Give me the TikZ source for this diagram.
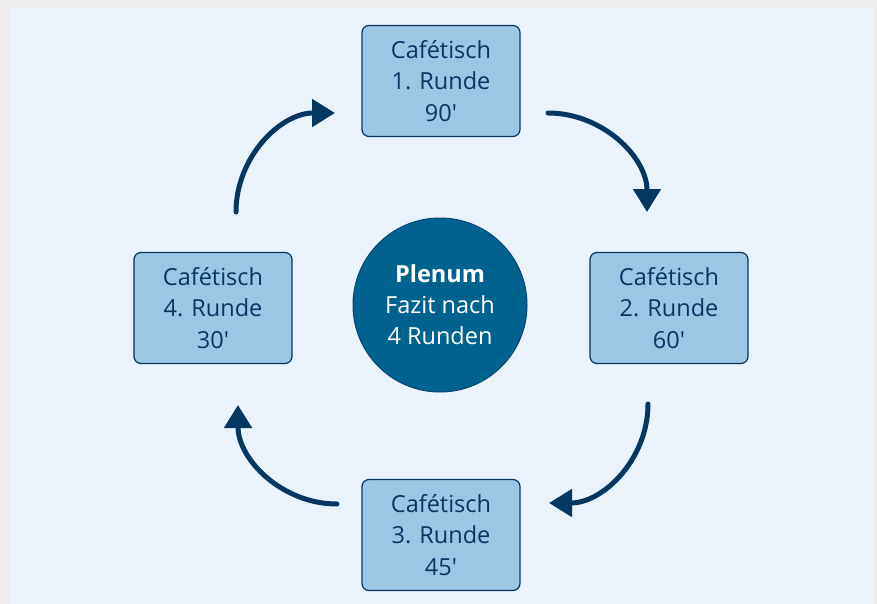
\documentclass[tikz,border=0pt]{standalone}
\usepackage{fontspec}
\setmainfont{Open Sans}
\usetikzlibrary{arrows.meta,positioning}

\definecolor{outergray}{HTML}{ECECEC}
\definecolor{pagebg}{HTML}{EAF3FB}
\definecolor{tablefill}{HTML}{9DC6E5}
\definecolor{navy}{HTML}{063763}
\definecolor{plenumfill}{HTML}{00638F}

\tikzset{
  table/.style={draw=navy, fill=tablefill, line width=1.2pt, rounded corners=7pt,
    minimum width=158pt, minimum height=111pt, align=center, text=navy,
    font=\fontsize{23.5}{31.5}\selectfont},
  plenum/.style={circle, draw=navy!70!plenumfill, fill=plenumfill, line width=1pt,
    minimum size=174pt, align=center, text=white,
    font=\fontsize{23.5}{31}\selectfont},
  round/.style={draw=navy, line width=5pt, line cap=round,
    -{Triangle[length=23pt,width=27pt]}}
}

\begin{document}
\begin{tikzpicture}[x=1pt,y=-1pt]
\useasboundingbox (0,0) rectangle (877,604);
%Background
\fill[outergray] (0,0) rectangle (877,604);
\fill[pagebg] (11,8) rectangle (873,604);

%Tables
\node[table] (t1) at (441,81) {Cafétisch\\1. Runde\\90′};
\node[table] (t2) at (669,308) {Cafétisch\\2. Runde\\60′};
\node[table] (t3) at (441,535) {Cafétisch\\3. Runde\\45′};
\node[table] (t4) at (213,308) {Cafétisch\\4. Runde\\30′};

%Plenum
\node[plenum] (plenum) at (440,305) {\textbf{Plenum}\\Fazit nach\\4 Runden};

%Rounds
\coordinate (s41) at (236,212);
\coordinate (s12) at (548,113);
\coordinate (s23) at (648,404);
\coordinate (s34) at (337,504);
\draw[round] (s41) arc[start angle=180, end angle=270, radius=99];
\draw[round] (s12) arc[start angle=270, end angle=360, radius=99];
\draw[round] (s23) arc[start angle=0, end angle=90, radius=99];
\draw[round] (s34) arc[start angle=90, end angle=180, radius=99];

\end{tikzpicture}
\end{document}
